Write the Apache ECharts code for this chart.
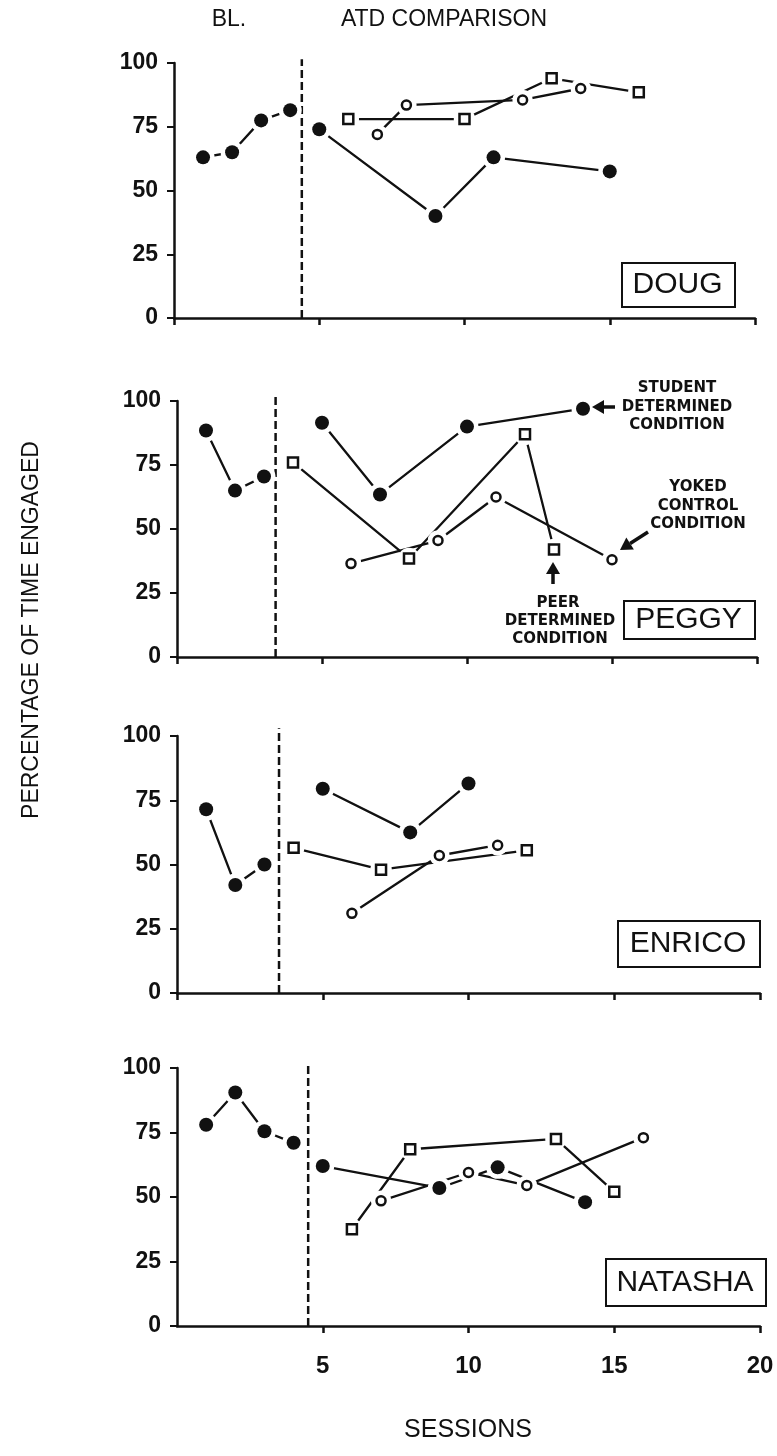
<!DOCTYPE html>
<html>
<head>
<meta charset="utf-8">
<script src="https://cdn.jsdelivr.net/npm/echarts@6/dist/echarts.min.js"></script>
<style>
  html,body{margin:0;padding:0;background:#fff;}
  #chart{width:777px;height:1456px;}
</style>
</head>
<body>
<div id="chart"></div>
<script>
/* ---------- data (sessions x percentage engaged) ---------- */
const xTicks = [0, 20, 5];            // min, max, interval
const yTicks = [0, 100, 25];
const students = ['DOUG', 'PEGGY', 'ENRICO', 'NATASHA'];

// baseline phase (filled circles)
const baseline = [
  [[1,63],[2,65],[3,77.5],[4,81.5]],
  [[1,88.5],[2,65],[3,70.5]],
  [[1,71.5],[2,42],[3,50]],
  [[1,78],[2,90.5],[3,75.5],[4,71]]
];
// ATD: student determined (filled circles)
const studentDet = [
  [[5,74],[9,40],[11,63],[15,57.5]],
  [[5,91.5],[7,63.5],[10,90],[14,97]],
  [[5,79.5],[8,62.5],[10,81.5]],
  [[5,62],[9,53.5],[11,61.5],[14,48]]
];
// ATD: peer determined (open squares)
const peerDet = [
  [[6,78],[10,78],[13,94],[16,88.5]],
  [[4,76],[8,38.5],[12,87],[13,42]],
  [[4,56.5],[7,48],[12,55.5]],
  [[6,37.5],[8,68.5],[13,72.5],[15,52]]
];
// ATD: yoked control (open circles)
const yoked = [
  [[7,72],[8,83.5],[12,85.5],[14,90]],
  [[6,36.5],[9,45.5],[11,62.5],[15,38]],
  [[6,31],[9,53.5],[11,57.5]],
  [[7,48.5],[10,59.5],[12,54.5],[16,73]]
];
// phase change line (session position, top of dashed line)
const phaseX = [4.4, 3.4, 3.5, 4.5];
const phaseTop = [101.5, 103, 103, 101];

/* ---------- layout ---------- */
const FONT = "'Liberation Sans', Arial, Helvetica, sans-serif";
const INK = '#111';
const grids = [
  {left:174, top:63,   width:581, height:255},
  {left:177, top:401,  width:580, height:256},
  {left:177, top:736,  width:583, height:257},
  {left:177, top:1068, width:583, height:258}
];
const nameBoxes = [
  {x:621, y:262,  w:113, h:44},
  {x:623, y:600,  w:131, h:38},
  {x:617, y:920,  w:142, h:46},
  {x:605, y:1258, w:160, h:47}
];

const xAxes = [], yAxes = [], series = [];
grids.forEach((g, i) => {
  const last = i === grids.length - 1;
  xAxes.push({
    gridIndex:i, type:'value', min:xTicks[0], max:xTicks[1], interval:xTicks[2],
    axisLine:{show:true, onZero:false, lineStyle:{color:INK, width:2.5}},
    axisTick:{show:true, length:7, lineStyle:{color:INK, width:2.5}},
    axisLabel:{show:last, showMinLabel:false, color:INK, fontSize:24, fontWeight:'bold', fontFamily:FONT, margin:28},
    splitLine:{show:false}
  });
  yAxes.push({
    gridIndex:i, type:'value', min:yTicks[0], max:yTicks[1], interval:yTicks[2],
    axisLine:{show:true, lineStyle:{color:INK, width:2.5}},
    axisTick:{show:true, length:7, lineStyle:{color:INK, width:2}},
    axisLabel:{color:INK, fontSize:23, fontWeight:'bold', fontFamily:FONT, margin:16},
    splitLine:{show:false}
  });

  // dashed phase-change line
  series.push({
    type:'line', xAxisIndex:i, yAxisIndex:i, clip:false, silent:true,
    data:[[phaseX[i], 0], [phaseX[i], phaseTop[i]]],
    symbol:'none', z:1,
    lineStyle:{color:INK, width:2.5, type:[8,4]}
  });

  const groups = [
    {data:baseline[i],   sym:'circle', size:14, fill:INK,    bw:0},
    {data:studentDet[i], sym:'circle', size:14, fill:INK,    bw:0},
    {data:peerDet[i],    sym:'rect',   size:10, fill:'#fff', bw:2.5},
    {data:yoked[i],      sym:'circle', size:9,  fill:'#fff', bw:2.5}
  ];
  groups.forEach(gr => {
    series.push({
      type:'line', xAxisIndex:i, yAxisIndex:i, data:gr.data,
      symbol:'none', z:2, silent:true,
      lineStyle:{color:INK, width:2.3}
    });
  });
  // white halo to open a gap between lines and markers
  groups.forEach(gr => {
    series.push({
      type:'scatter', xAxisIndex:i, yAxisIndex:i, data:gr.data,
      symbol:'circle', symbolSize:gr.size + gr.bw + 9, z:3, silent:true,
      itemStyle:{color:'#fff', opacity:1}
    });
  });
  groups.forEach(gr => {
    series.push({
      type:'scatter', xAxisIndex:i, yAxisIndex:i, data:gr.data,
      symbol:gr.sym, symbolSize:gr.size, z:4, silent:true,
      itemStyle:{color:gr.fill, borderColor:INK, borderWidth:gr.bw, opacity:1}
    });
  });
});

/* ---------- annotations ---------- */
const graphic = [];
nameBoxes.forEach((b, i) => {
  graphic.push({type:'rect', left:b.x, top:b.y, shape:{width:b.w, height:b.h},
    style:{fill:'#fff', stroke:INK, lineWidth:2}, z:10});
  graphic.push({type:'text', x:b.x + b.w/2, y:b.y + b.h/2 + 1, z:11,
    style:{text:students[i], fill:INK, font:'30px ' + FONT, align:'center', verticalAlign:'middle'}});
});
const txt = (s, x, y, font) => ({type:'text', x, y, z:11,
  style:{text:s, fill:INK, font, align:'center', verticalAlign:'middle'}});
const HEAD = '23px ' + FONT;
graphic.push(txt('BL.', 229, 20, HEAD));
graphic.push(txt('ATD COMPARISON', 444, 20, HEAD));
graphic.push(txt('SESSIONS', 468, 1430, '25px ' + FONT));
graphic.push({type:'text', x:32, y:630, rotation:Math.PI/2, z:11,
  style:{text:'PERCENTAGE OF TIME ENGAGED', fill:INK, font:'23px ' + FONT, align:'center', verticalAlign:'middle'}});

const SMALL = "bold 15px 'DejaVu Sans', sans-serif";
[['STUDENT',677,388],['DETERMINED',677,407],['CONDITION',677,425],
 ['YOKED',698,487],['CONTROL',698,506],['CONDITION',698,524],
 ['PEER',558,603],['DETERMINED',560,621],['CONDITION',560,639]]
  .forEach(t => graphic.push(txt(t[0], t[1], t[2], SMALL)));

function arrow(x1, y1, x2, y2){
  const a = Math.atan2(y2 - y1, x2 - x1), L = 12, W = 7;
  const bx = x2 - L*Math.cos(a), by = y2 - L*Math.sin(a);
  graphic.push({type:'line', z:11, shape:{x1, y1, x2:bx, y2:by}, style:{stroke:INK, lineWidth:3.5}});
  graphic.push({type:'polygon', z:11, shape:{points:[[x2,y2],
    [bx - W*Math.sin(a), by + W*Math.cos(a)], [bx + W*Math.sin(a), by - W*Math.cos(a)]]},
    style:{fill:INK}});
}
arrow(615, 407, 592, 407);
arrow(648, 532, 620, 550);
arrow(553, 584, 553, 562);

const chart = echarts.init(document.getElementById('chart'), null, {renderer:'canvas'});
chart.setOption({
  animation:false,
  backgroundColor:'#fff',
  textStyle:{fontFamily:FONT},
  grid:grids,
  xAxis:xAxes,
  yAxis:yAxes,
  series,
  graphic
});
</script>
</body>
</html>
